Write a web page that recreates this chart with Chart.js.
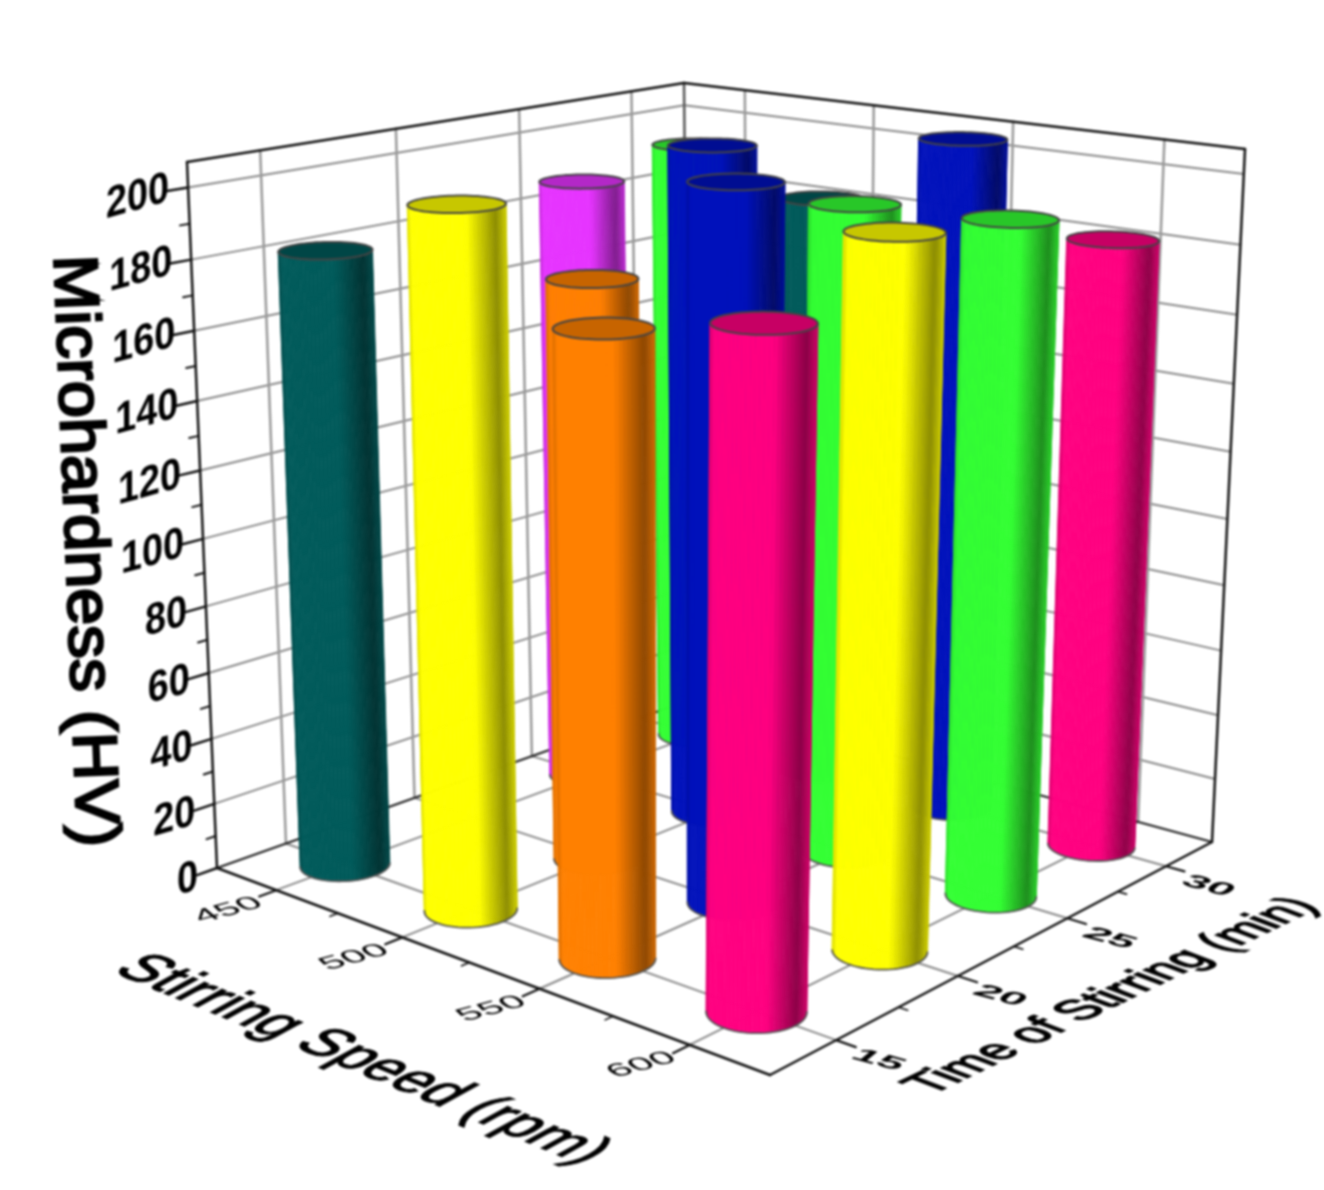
<!DOCTYPE html>
<html>
<head>
<meta charset="utf-8">
<title>Microhardness</title>
<script src="https://cdn.jsdelivr.net/npm/chart.js@4"></script>
<style>
  html, body { margin: 0; background: #fff; }
  canvas { display: block; filter: blur(0.9px); }
</style>
</head>
<body>
<canvas id="chart" width="1324" height="1190"></canvas>
<script>
'use strict';

const speedLabels = ['450', '500', '550', '600'];
const timeLabels = ['15', '20', '25', '30'];
const hvTicks = [0, 20, 40, 60, 80, 100, 120, 140, 160, 180, 200];
const hvMinorTicks = [10, 30, 50, 70, 90, 110, 130, 150, 170, 190];

// one array per stirring time, one value per stirring speed
const hv15 = [182, 201, 175, 184];
const hv20 = [null, 173, 206, 199];
const hv25 = [188, 204, 193, 195];
const hv30 = [193, 182, 205, 182];

const teal = '#005a5a', yellow = '#ffff00', magenta = '#e633ff', orange = '#ff8000';
const green = '#33ff33', blue = '#0011bb', pink = '#ff0080';
const colors15 = [teal, yellow, orange, pink];
const colors20 = [teal, orange, blue, yellow];
const colors25 = [magenta, blue, green, green];
const colors30 = [green, teal, blue, pink];

// corners of the box on the page: left, front, right, back
const floorQuad = [[217, 868], [770, 1075], [1212, 842], [690, 700]];
const ceilQuad = [[187, 162], [782, 262], [1245, 149], [684, 83]];
const perspective = 1.07;
const radius = 0.062;

// unit square to quad
function squareToQuad (q, u, v) {
    const [p0, p1, p2, p3] = q;
    const dx1 = p1[0] - p2[0], dx2 = p3[0] - p2[0], sx = p0[0] - p1[0] + p2[0] - p3[0];
    const dy1 = p1[1] - p2[1], dy2 = p3[1] - p2[1], sy = p0[1] - p1[1] + p2[1] - p3[1];
    const den = dx1 * dy2 - dx2 * dy1;
    const g = (sx * dy2 - dx2 * sy) / den;
    const h = (dx1 * sy - sx * dy1) / den;
    const a = p1[0] - p0[0] + g * p1[0], b = p3[0] - p0[0] + h * p3[0];
    const d = p1[1] - p0[1] + g * p1[1], e = p3[1] - p0[1] + h * p3[1];
    const w = g * u + h * v + 1;
    return [(a * u + b * v + p0[0]) / w, (d * u + e * v + p0[1]) / w];
}

function project (u, v, w) {
    const f = w / (w + (1 - w) * perspective);
    const a = squareToQuad(floorQuad, u, v);
    const b = squareToQuad(ceilQuad, u, v);
    return [a[0] + (b[0] - a[0]) * f, a[1] + (b[1] - a[1]) * f];
}

function shade (hex, k) {
    const n = parseInt(hex.slice(1), 16);
    const c = [n >> 16, (n >> 8) & 255, n & 255].map(x => Math.round(x * k));
    return 'rgb(' + c.join(',') + ')';
}

function bodyShade (t) {
    if (t < 0.03) return 0.9;
    if (t < 0.6) return 1;
    if (t < 0.9) return 1 - 0.45 * (t - 0.6) / 0.3;
    return 0.55 + 0.25 * (t - 0.9) / 0.1;
}

function line (ctx, a, b, color, width) {
    ctx.strokeStyle = color;
    ctx.lineWidth = width;
    ctx.beginPath();
    ctx.moveTo(a[0], a[1]);
    ctx.lineTo(b[0], b[1]);
    ctx.stroke();
}

function skewText (ctx, str, font, x, y, dir, down, width, align, weight) {
    ctx.save();
    ctx.font = font;
    ctx.textAlign = align || 'center';
    ctx.textBaseline = 'middle';
    const s = width / ctx.measureText(str).width;
    ctx.transform(dir[0] * s, dir[1] * s, down[0], down[1], x, y);
    ctx.fillStyle = '#000';
    ctx.fillText(str, 0, 0);
    if (weight) {
        ctx.strokeStyle = '#000';
        ctx.lineWidth = weight;
        ctx.strokeText(str, 0, 0);
    }
    ctx.restore();
}

function drawBox (ctx, us, vs, hvFrac) {
    const grey = '#999', greyH = '#8a8a8a', black = '#111';
    // height grid on the two walls
    hvTicks.forEach(val => {
        const w = hvFrac(val);
        if (val > 0) {
            line(ctx, project(0, 0, w), project(0, 1, w), greyH, 2);
            line(ctx, project(0, 1, w), project(1, 1, w), greyH, 2);
        }
    });
    vs.forEach(v => {
        line(ctx, project(0, v, 0), project(0, v, 1), grey, 2.5);
        line(ctx, project(0, v, 0), project(1, v, 0), greyH, 2);
    });
    us.forEach(u => {
        line(ctx, project(u, 1, 0), project(u, 1, 1), grey, 2.5);
        line(ctx, project(u, 0, 0), project(u, 1, 0), greyH, 2);
    });
    line(ctx, project(0, 1, 0), project(0, 1, 1), '#555', 2.5);
    line(ctx, project(0, 0, 0), project(0, 1, 0), '#222', 2.2);
    line(ctx, project(0, 1, 0), project(1, 1, 0), '#222', 2.2);
    // outer frame
    line(ctx, project(0, 0, 0), project(0, 0, 1), black, 2.5);
    line(ctx, project(1, 1, 0), project(1, 1, 1), black, 2.5);
    line(ctx, project(0, 0, 1), project(0, 1, 1), black, 2.5);
    line(ctx, project(0, 1, 1), project(1, 1, 1), black, 2.5);
    line(ctx, project(0, 0, 0), project(1, 0, 0), black, 2.5);
    line(ctx, project(1, 0, 0), project(1, 1, 0), black, 2.5);
    // ticks
    hvTicks.forEach(val => {
        const w = hvFrac(val);
        line(ctx, project(0, 0, w), project(0, -0.035, w), black, 2.5);
    });
    hvMinorTicks.forEach(val => {
        const w = hvFrac(val);
        line(ctx, project(0, 0, w), project(0, -0.016, w), black, 2);
    });
    us.forEach(u => line(ctx, project(u, 0, 0), project(u, -0.03, 0), black, 2.2));
    vs.forEach(v => line(ctx, project(1, v, 0), project(1.03, v, 0), black, 2.2));
    [0.25, 0.5, 0.75].forEach(k => {
        line(ctx, project(k, 0, 0), project(k, -0.014, 0), black, 1.6);
        line(ctx, project(1, k, 0), project(1.014, k, 0), black, 1.6);
    });
}

function drawCylinder (ctx, u, v, w, color) {
    const n = 72;
    const bottom = [], top = [];
    for (let i = 0; i < n; i++) {
        const a = i / n * Math.PI * 2;
        const cu = u + radius * Math.cos(a), cv = v + radius * Math.sin(a);
        bottom.push(project(cu, cv, 0));
        top.push(project(cu, cv, w));
    }
    let iL = 0, iR = 0, iLow = 0;
    bottom.forEach((p, i) => {
        if (p[0] < bottom[iL][0]) iL = i;
        if (p[0] > bottom[iR][0]) iR = i;
        if (p[1] > bottom[iLow][1]) iLow = i;
    });
    // walk the near half of the base, left silhouette to right silhouette
    const forward = (iLow - iL + n) % n < (iR - iL + n) % n;
    const step = forward ? 1 : n - 1;
    const arc = [];
    for (let i = iL; ; i = (i + step) % n) {
        arc.push(i);
        if (i === iR) break;
    }
    const xL = bottom[iL][0], xR = bottom[iR][0];
    for (let k = 0; k < arc.length - 1; k++) {
        const i = arc[k], j = arc[k + 1];
        const t = ((bottom[i][0] + bottom[j][0]) / 2 - xL) / (xR - xL);
        const c = shade(color, bodyShade(t));
        ctx.fillStyle = c;
        ctx.strokeStyle = c;
        ctx.lineWidth = 0.8;
        ctx.beginPath();
        ctx.moveTo(bottom[i][0], bottom[i][1]);
        ctx.lineTo(bottom[j][0], bottom[j][1]);
        ctx.lineTo(top[j][0], top[j][1]);
        ctx.lineTo(top[i][0], top[i][1]);
        ctx.closePath();
        ctx.fill();
        ctx.stroke();
    }
    ctx.strokeStyle = '#555';
    ctx.lineWidth = 1.8;
    ctx.beginPath();
    arc.forEach((i, k) => {
        if (k === 0) ctx.moveTo(bottom[i][0], bottom[i][1]);
        else ctx.lineTo(bottom[i][0], bottom[i][1]);
    });
    ctx.stroke();
    // top cap
    ctx.beginPath();
    top.forEach((p, i) => {
        if (i === 0) ctx.moveTo(p[0], p[1]);
        else ctx.lineTo(p[0], p[1]);
    });
    ctx.closePath();
    ctx.fillStyle = shade(color, 0.78);
    ctx.fill();
    ctx.strokeStyle = '#444';
    ctx.lineWidth = 2;
    ctx.stroke();
}

function drawLabels (ctx, us, vs, hvFrac) {
    const family = '"Liberation Sans"';
    hvTicks.forEach(val => {
        const a = project(0, 0, hvFrac(val));
        const w = String(val).length * 21;
        skewText(ctx, String(val), 'bold 44px ' + family, a[0] - 19, a[1] + 9 - 8 * val / 200,
            [1, -0.28], [0, 1], w, 'right');
    });
    speedLabels.forEach((s, i) => {
        const a = project(us[i], 0, 0);
        skewText(ctx, s, '20px ' + family, a[0] - 48, a[1] + 20, [0.965, -0.26], [0.95, 0.78], 66);
    });
    timeLabels.forEach((s, i) => {
        const a = project(1, vs[i], 0);
        skewText(ctx, s, 'bold 20px ' + family, a[0] + 42, a[1] + 20, [0.965, 0.26], [-0.9, 0.75], 50);
    });
    skewText(ctx, 'Stirring Speed (rpm)', '48px ' + family, 362, 1060, [0.925, 0.38], [-1.13, 0.62], 510, 'center', 1.2);
    skewText(ctx, 'Time of Stirring (min)', '42px ' + family, 1112, 996, [0.9, -0.436], [1.16, 0.44], 432, 'center', 1.6);
    skewText(ctx, 'Microhardness (HV)', '62px ' + family, 83, 551, [0.04, 1], [-1, 0.04], 592, 'center', 2.6);
}

const box3d = {
    id: 'box3d',
    beforeDatasetsDraw (chart) {
        const ctx = chart.ctx;
        const { x, y, t } = chart.scales;
        const uFrac = i => (x.getPixelForValue(i) - x.left) / x.width;
        const vFrac = j => (t.getPixelForValue(j) - t.left) / t.width;
        const hvFrac = val => (y.bottom - y.getPixelForValue(val)) / y.height;
        const us = speedLabels.map((s, i) => uFrac(i));
        const vs = timeLabels.map((s, j) => vFrac(j));

        ctx.save();
        ctx.lineCap = 'round';
        drawBox(ctx, us, vs, hvFrac);

        const bars = [];
        chart.data.datasets.forEach((ds, j) => {
            ds.data.forEach((val, i) => {
                if (val !== null) {
                    bars.push({ u: us[i], v: vs[j], w: hvFrac(val), color: ds.backgroundColor[i] });
                }
            });
        });
        // far corner first
        bars.sort((a, b) => (b.v - b.u) - (a.v - a.u));
        bars.forEach(b => drawCylinder(ctx, b.u, b.v, b.w, b.color));

        drawLabels(ctx, us, vs, hvFrac);
        ctx.restore();
        return false;
    }
};

new Chart(document.getElementById('chart').getContext('2d'), {
    type: 'bar',
    data: {
        labels: speedLabels,
        datasets: [
            { label: timeLabels[0], data: hv15, backgroundColor: colors15 },
            { label: timeLabels[1], data: hv20, backgroundColor: colors20 },
            { label: timeLabels[2], data: hv25, backgroundColor: colors25 },
            { label: timeLabels[3], data: hv30, backgroundColor: colors30 }
        ]
    },
    options: {
        responsive: false,
        animation: false,
        layout: { padding: 0 },
        plugins: { legend: { display: false }, tooltip: { enabled: false } },
        scales: {
            x: { type: 'category', display: false, offset: true },
            t: { type: 'category', axis: 'x', labels: timeLabels, display: false, offset: true },
            y: { type: 'linear', display: false, min: 0, max: 207 }
        }
    },
    plugins: [box3d]
});
</script>
</body>
</html>
